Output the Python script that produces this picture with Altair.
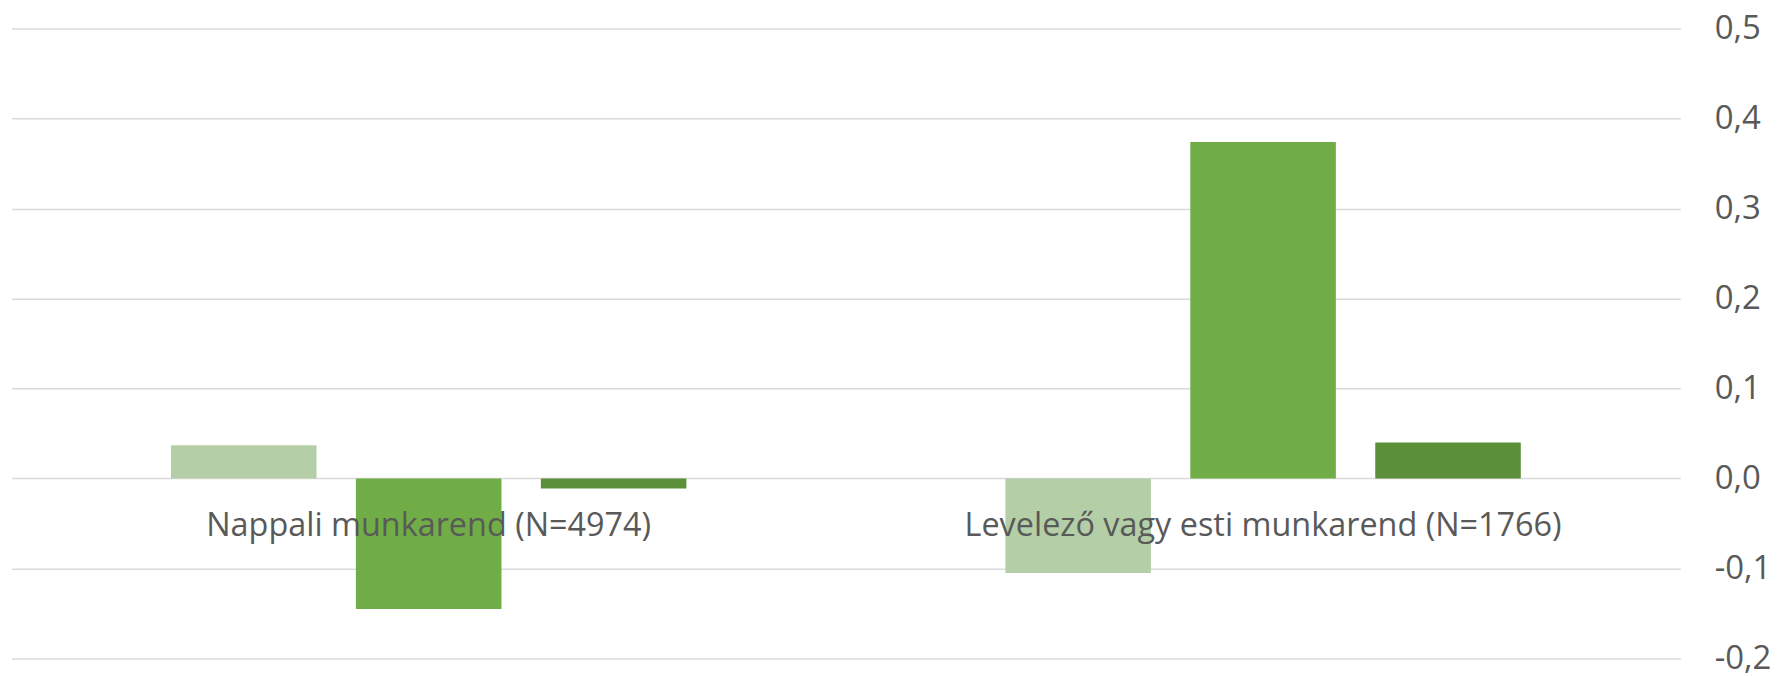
import altair as alt
import pandas as pd

categories = ["Nappali munkarend (N=4974)", "Levelező vagy esti munkarend (N=1766)"]
series_names = ["Sorozat1", "Sorozat2", "Sorozat3"]
series1 = [0.037, -0.105]
series2 = [-0.145, 0.374]
series3 = [-0.011, 0.040]
y_ticks = [-0.2, -0.1, 0.0, 0.1, 0.2, 0.3, 0.4, 0.5]
colors = ["#B4CFA7", "#70AD47", "#5B8F3A"]

rows = []
for name, vals in zip(series_names, [series1, series2, series3]):
    for c, v in zip(categories, vals):
        rows.append({"cat": c, "series": name, "value": v})
df = pd.DataFrame(rows)
labels_df = pd.DataFrame({"cat": categories})

FONT = "Open Sans"
TXT = "#595959"

x_enc = alt.X("cat:N", sort=categories, axis=None,
              scale=alt.Scale(paddingInner=0, paddingOuter=0))
y_scale = alt.Scale(domain=[-0.2, 0.5], nice=False, zero=False)

bars = alt.Chart(df).mark_bar().encode(
    x=x_enc,
    xOffset=alt.XOffset("series:N", sort=series_names,
                        scale=alt.Scale(paddingInner=0.213, paddingOuter=0.8625)),
    y=alt.Y("value:Q", scale=y_scale, stack=None,
            axis=alt.Axis(orient="right", values=y_ticks, domain=False, ticks=False,
                          grid=True, gridColor="#D9D9D9", gridWidth=1.5,
                          labelFont=FONT, labelFontSize=33, labelColor=TXT,
                          labelPadding=34, labelAlign="left", labelBaseline="middle",
                          title=None,
                          labelExpr="(datum.value < 0 ? '-' : '') + replace(format(abs(datum.value), '.1f'), '.', ',')")),
    color=alt.Color("series:N", scale=alt.Scale(domain=series_names, range=colors), legend=None),
)

text = alt.Chart(labels_df).mark_text(
    font=FONT, fontSize=32.5, color=TXT, baseline="alphabetic", dy=58
).encode(
    x=x_enc,
    y=alt.datum(0),
    text="cat:N",
)

chart = alt.layer(bars, text).properties(
    width=1674, height=632,
    autosize=alt.AutoSizeParams(type="none"),
    padding={"left": 3.5, "top": 19.5, "right": 93, "bottom": 16},
).configure_view(stroke=None)

chart.save("out.html", embed_options={"renderer": "svg", "actions": False})
